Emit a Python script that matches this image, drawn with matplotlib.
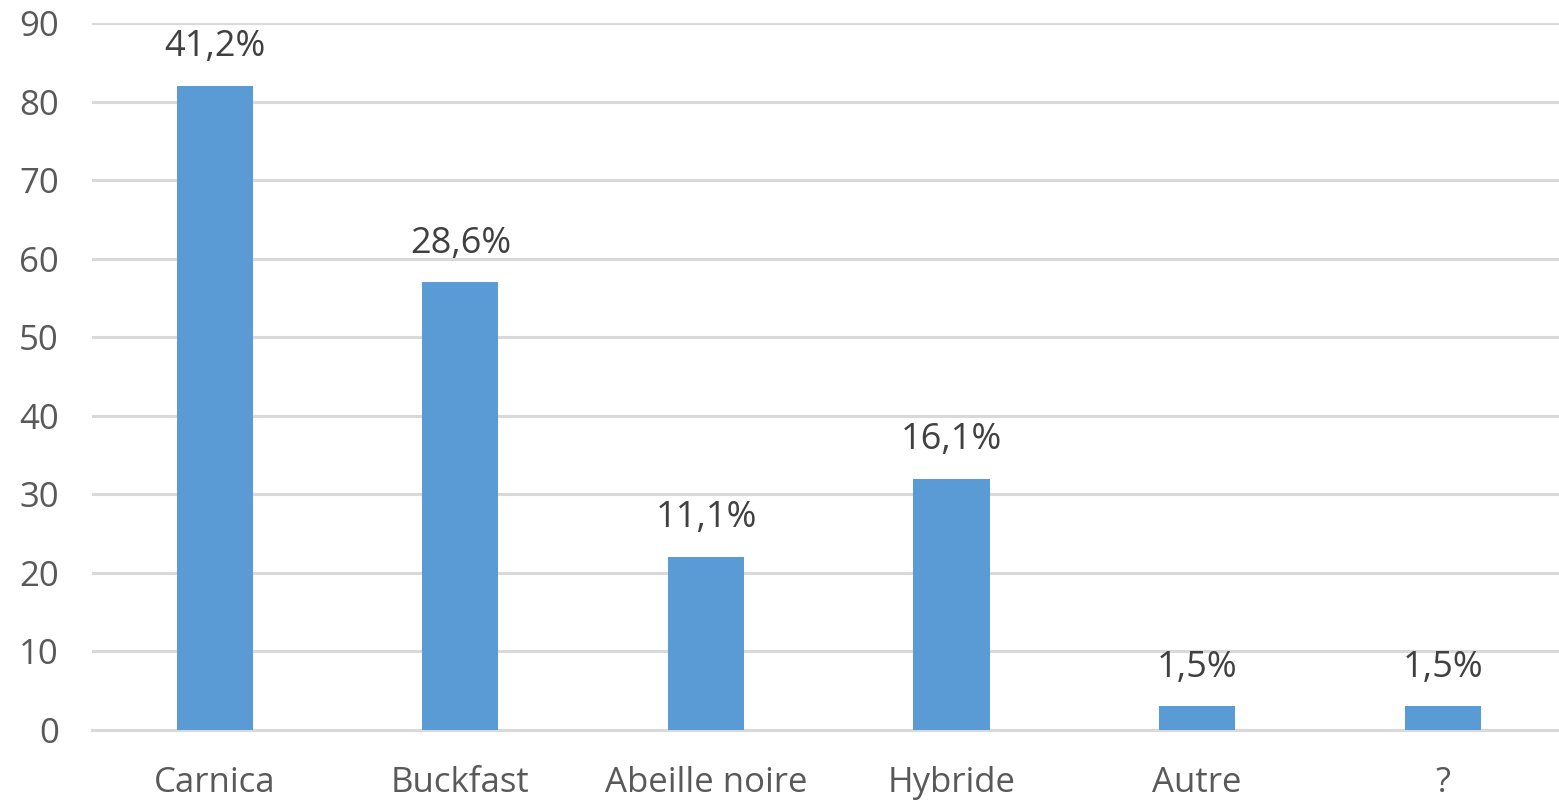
import matplotlib
matplotlib.use("Agg")
import matplotlib.pyplot as plt

categories = ["Carnica", "Buckfast", "Abeille noire", "Hybride", "Autre", "?"]
values = [82, 57, 22, 32, 3, 3]
labels = ["41,2%", "28,6%", "11,1%", "16,1%", "1,5%", "1,5%"]
yticks = [0, 10, 20, 30, 40, 50, 60, 70, 80, 90]

plt.rcParams['font.family'] = ['Open Sans', 'DejaVu Sans']
fig = plt.figure(figsize=(15.59, 8.02), dpi=100)
ax = fig.add_axes([0.059, 0.0898, 0.9452, 0.881])
x = list(range(len(categories)))
ax.bar(x, values, width=0.31, color="#5b9bd5", zorder=3)
for xi, v, l in zip(x, values, labels):
    ax.text(xi, v + 3.8, l, ha="center", va="baseline", fontsize=26, color="#404040")
ax.set_xlim(-0.5, 5.5)
ax.set_ylim(0, 90)
ax.set_yticks(yticks)
ax.set_xticks(x)
ax.set_xticklabels(categories)
ax.tick_params(axis="both", length=0, labelsize=25, colors="#595959")
ax.tick_params(axis="x", pad=26)
ax.tick_params(axis="y", pad=24)
ax.grid(axis="y", color="#d9d9d9", linewidth=2.2, zorder=0)
for s in ["top", "right", "left"]:
    ax.spines[s].set_visible(False)
ax.spines["bottom"].set_color("#d9d9d9")
ax.spines["bottom"].set_linewidth(2.2)
fig.savefig("out.png", dpi=100)
